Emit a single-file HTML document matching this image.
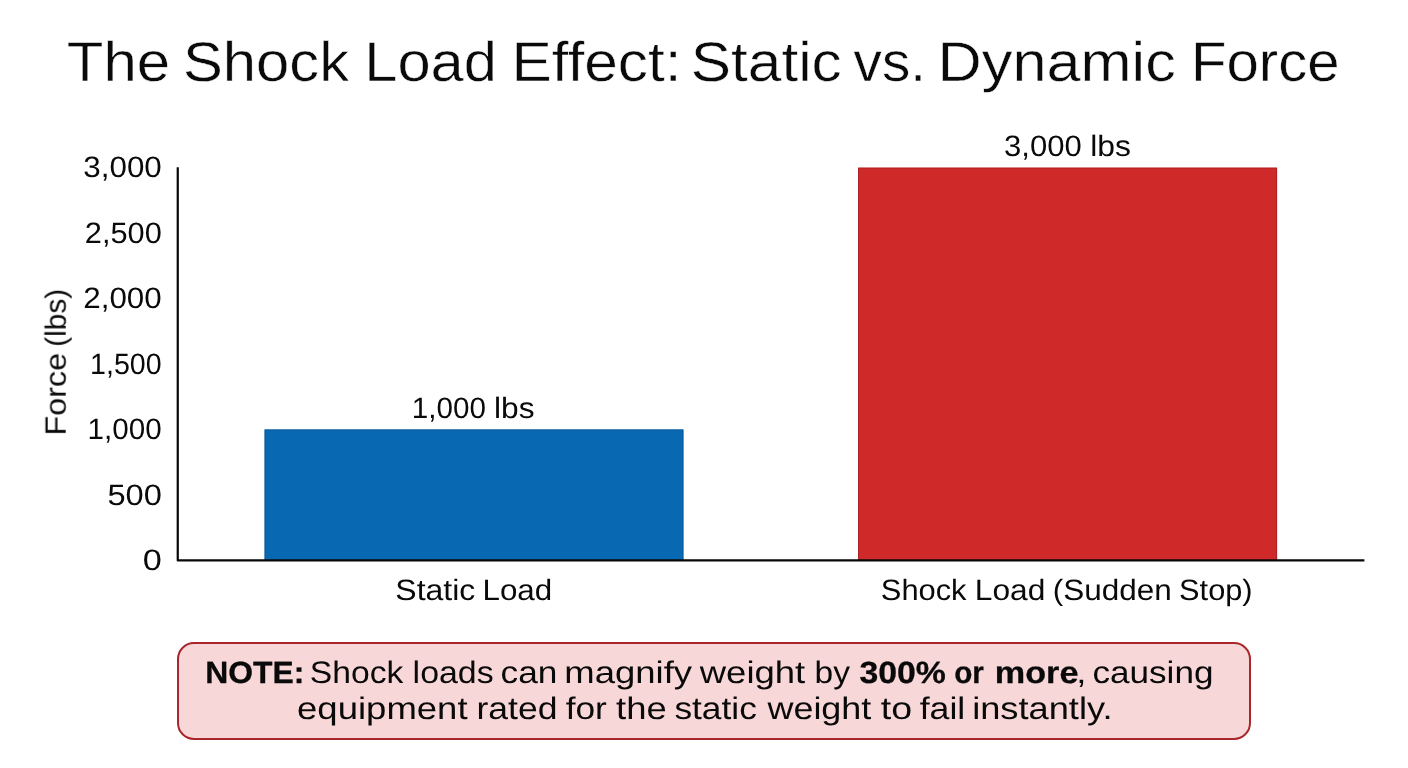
<!DOCTYPE html>
<html>
<head>
<meta charset="utf-8">
<title>The Shock Load Effect: Static vs. Dynamic Force</title>
<style>
html, body { margin:0; padding:0; background:#ffffff; }
body { width:1408px; height:768px; overflow:hidden; font-family:"Liberation Sans", sans-serif; }
svg { display:block; }
svg text { font-family:"Liberation Sans", sans-serif; fill:#0a0a0a; white-space:pre; text-rendering:geometricPrecision; }
</style>
</head>
<body>
<svg width="1408" height="768" viewBox="0 0 1408 768">
<rect x="0" y="0" width="1408" height="768" fill="#ffffff"/>
<!-- bars -->
<rect x="264.5" y="429.4" width="419" height="130.6" fill="#0869b2"/>
<path d="M265 560 V429.9 H683 V560" fill="none" stroke="#074f88" stroke-width="1" stroke-opacity="0.55"/>
<rect x="858" y="167.6" width="419.1" height="392.4" fill="#cf2a29"/>
<path d="M858.5 560 V168.1 H1276.6 V560" fill="none" stroke="#8f1c20" stroke-width="1" stroke-opacity="0.55"/>
<!-- axes -->
<path d="M177.75 167.3 V560.45 H1364.4" fill="none" stroke="#080808" stroke-width="2.2" stroke-linejoin="round"/>
<!-- note box -->
<rect x="178" y="643" width="1072" height="96" rx="16" ry="16" fill="#f8d7d8" stroke="#a9272c" stroke-width="2"/>
<!-- text -->
<g opacity="0.999" stroke-linejoin="round">
<g>
<text x="66.83" y="81.00" textLength="103.26" lengthAdjust="spacingAndGlyphs" font-size="55.85" stroke="#ffffff" stroke-width="0.45">The</text>
<text x="182.96" y="81.00" textLength="166.18" lengthAdjust="spacingAndGlyphs" font-size="55.85" stroke="#ffffff" stroke-width="0.45">Shock</text>
<text x="364.29" y="81.00" textLength="132.58" lengthAdjust="spacingAndGlyphs" font-size="55.85" stroke="#ffffff" stroke-width="0.45">Load</text>
<text x="511.42" y="81.00" textLength="170.23" lengthAdjust="spacingAndGlyphs" font-size="55.85" stroke="#ffffff" stroke-width="0.45">Effect:</text>
<text x="690.78" y="81.00" textLength="151.03" lengthAdjust="spacingAndGlyphs" font-size="55.85" stroke="#ffffff" stroke-width="0.45">Static</text>
<text x="853.58" y="81.00" textLength="72.42" lengthAdjust="spacingAndGlyphs" font-size="55.85" stroke="#ffffff" stroke-width="0.45">vs.</text>
<text x="937.55" y="81.00" textLength="238.29" lengthAdjust="spacingAndGlyphs" font-size="55.85" stroke="#ffffff" stroke-width="0.45">Dynamic</text>
<text x="1191.01" y="81.00" textLength="148.60" lengthAdjust="spacingAndGlyphs" font-size="55.85" stroke="#ffffff" stroke-width="0.45">Force</text>
</g>
<g>
<text x="83.31" y="177.00" textLength="78.52" lengthAdjust="spacingAndGlyphs" font-size="29.5">3,000</text>
</g>
<g>
<text x="84.85" y="243.00" textLength="76.95" lengthAdjust="spacingAndGlyphs" font-size="29.5">2,500</text>
</g>
<g>
<text x="83.22" y="308.00" textLength="78.50" lengthAdjust="spacingAndGlyphs" font-size="29.5">2,000</text>
</g>
<g>
<text x="90.12" y="374.00" textLength="71.49" lengthAdjust="spacingAndGlyphs" font-size="29.5">1,500</text>
</g>
<g>
<text x="87.54" y="439.00" textLength="74.11" lengthAdjust="spacingAndGlyphs" font-size="29.5">1,000</text>
</g>
<g>
<text x="107.44" y="505.00" textLength="54.43" lengthAdjust="spacingAndGlyphs" font-size="29.5">500</text>
</g>
<g>
<text x="142.86" y="570.00" textLength="19.08" lengthAdjust="spacingAndGlyphs" font-size="29.5">0</text>
</g>
<g>
<text x="411.84" y="418.00" textLength="74.11" lengthAdjust="spacingAndGlyphs" font-size="29.5">1,000</text>
<text x="494.07" y="418.00" textLength="40.48" lengthAdjust="spacingAndGlyphs" font-size="29.5">lbs</text>
</g>
<g>
<text x="1004.02" y="156.00" textLength="77.70" lengthAdjust="spacingAndGlyphs" font-size="29.5">3,000</text>
<text x="1090.26" y="156.00" textLength="40.69" lengthAdjust="spacingAndGlyphs" font-size="29.5">lbs</text>
</g>
<g>
<text x="395.35" y="600.00" textLength="80.00" lengthAdjust="spacingAndGlyphs" font-size="29.5">Static</text>
<text x="482.53" y="600.00" textLength="69.69" lengthAdjust="spacingAndGlyphs" font-size="29.5">Load</text>
</g>
<g>
<text x="880.80" y="600.00" textLength="85.76" lengthAdjust="spacingAndGlyphs" font-size="29.5">Shock</text>
<text x="974.80" y="600.00" textLength="70.54" lengthAdjust="spacingAndGlyphs" font-size="29.5">Load</text>
<text x="1052.75" y="600.00" textLength="119.00" lengthAdjust="spacingAndGlyphs" font-size="29.5">(Sudden</text>
<text x="1179.10" y="600.00" textLength="73.50" lengthAdjust="spacingAndGlyphs" font-size="29.5">Stop)</text>
</g>
<g>
<text x="205.22" y="683.00" textLength="99.10" lengthAdjust="spacingAndGlyphs" font-weight="bold" font-size="30.76" stroke="#0a0a0a" stroke-width="0.3">NOTE:</text>
<text x="309.77" y="683.00" textLength="93.58" lengthAdjust="spacingAndGlyphs" font-size="31.2">Shock</text>
<text x="412.62" y="683.00" textLength="81.01" lengthAdjust="spacingAndGlyphs" font-size="31.2">loads</text>
<text x="500.60" y="683.00" textLength="56.89" lengthAdjust="spacingAndGlyphs" font-size="31.2">can</text>
<text x="564.28" y="683.00" textLength="127.80" lengthAdjust="spacingAndGlyphs" font-size="31.2">magnify</text>
<text x="699.75" y="683.00" textLength="105.51" lengthAdjust="spacingAndGlyphs" font-size="31.2">weight</text>
<text x="814.54" y="683.00" textLength="35.43" lengthAdjust="spacingAndGlyphs" font-size="31.2">by</text>
<text x="859.47" y="683.00" textLength="86.47" lengthAdjust="spacingAndGlyphs" font-weight="bold" font-size="30.76" stroke="#0a0a0a" stroke-width="0.3">300%</text>
<text x="954.19" y="683.00" textLength="29.71" lengthAdjust="spacingAndGlyphs" font-weight="bold" font-size="30.76" stroke="#0a0a0a" stroke-width="0.3">or</text>
<text x="994.80" y="683.00" textLength="83.62" lengthAdjust="spacingAndGlyphs" font-weight="bold" font-size="30.76" stroke="#0a0a0a" stroke-width="0.3">more</text>
<text x="1076.31" y="683.00" textLength="10.18" lengthAdjust="spacingAndGlyphs" font-size="31.2">,</text>
<text x="1092.51" y="683.00" textLength="120.95" lengthAdjust="spacingAndGlyphs" font-size="31.2">causing</text>
</g>
<g>
<text x="297.05" y="719.00" textLength="170.52" lengthAdjust="spacingAndGlyphs" font-size="31.2">equipment</text>
<text x="476.44" y="719.00" textLength="81.05" lengthAdjust="spacingAndGlyphs" font-size="31.2">rated</text>
<text x="565.70" y="719.00" textLength="41.19" lengthAdjust="spacingAndGlyphs" font-size="31.2">for</text>
<text x="616.05" y="719.00" textLength="50.67" lengthAdjust="spacingAndGlyphs" font-size="31.2">the</text>
<text x="674.42" y="719.00" textLength="82.41" lengthAdjust="spacingAndGlyphs" font-size="31.2">static</text>
<text x="767.45" y="719.00" textLength="103.91" lengthAdjust="spacingAndGlyphs" font-size="31.2">weight</text>
<text x="880.73" y="719.00" textLength="31.35" lengthAdjust="spacingAndGlyphs" font-size="31.2">to</text>
<text x="919.69" y="719.00" textLength="45.59" lengthAdjust="spacingAndGlyphs" font-size="31.2">fail</text>
<text x="972.17" y="719.00" textLength="140.34" lengthAdjust="spacingAndGlyphs" font-size="31.2">instantly.</text>
</g>
<g transform="translate(65.7,432.8) rotate(-90)">
<text x="-2.65" y="0.00" textLength="82.59" lengthAdjust="spacingAndGlyphs" font-size="29.5">Force</text>
<text x="86.05" y="0.00" textLength="58.00" lengthAdjust="spacingAndGlyphs" font-size="29.5">(lbs)</text>
</g>
</g>
</svg>
</body>
</html>
